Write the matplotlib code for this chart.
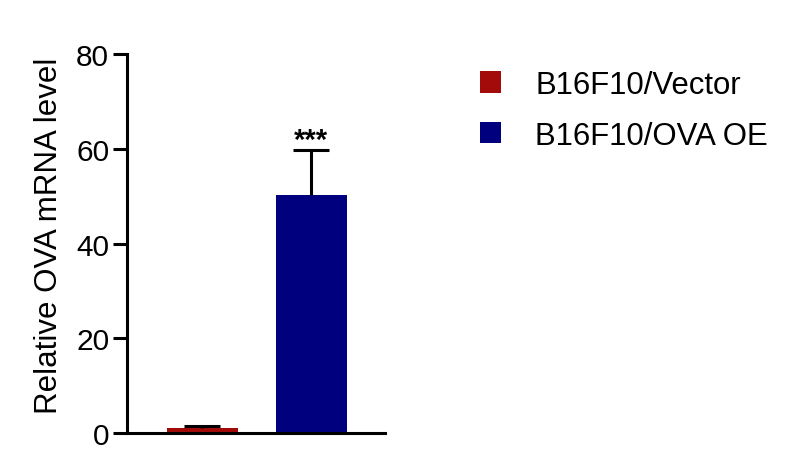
import matplotlib
matplotlib.use('Agg')
import matplotlib.pyplot as plt
from matplotlib.patches import Patch

groups = ['B16F10/Vector', 'B16F10/OVA OE']
means = [1.0, 50.2]
errors = [0.5, 9.6]
colors = ['#A30A0A', '#00007F']
y_ticks = [0, 20, 40, 60, 80]
signif = '***'

plt.rcParams['font.family'] = ['Liberation Sans', 'DejaVu Sans']

fig = plt.figure(figsize=(8, 4.6), dpi=100)
ax = fig.add_axes([0.159, 0.0565, 0.3225, 0.8235])

x = list(range(len(groups)))
ax.bar(x, means, width=0.65, color=colors, zorder=2)
# upward-only error bars, Prism style
eb = ax.errorbar(x, means, yerr=[[0] * len(errors), errors], fmt='none',
                 ecolor='black', elinewidth=2.2, capsize=13, capthick=2.2, zorder=3)
eb[1][0].set_visible(False)  # hide the lower caps

ax.text(x[1], means[1] + errors[1] - 0.8, signif, ha='center', va='bottom',
        fontsize=21, fontweight='bold')

ax.set_xlim(-0.69, 1.68)
ax.set_ylim(0, 80)
ax.set_yticks(y_ticks)
ax.set_xticks([])
ax.tick_params(axis='y', length=10, width=2.2, labelsize=21.5, pad=3)
for side in ['top', 'right']:
    ax.spines[side].set_visible(False)
for side in ['left', 'bottom']:
    ax.spines[side].set_linewidth(2.2)
ax.set_ylabel('Relative OVA mRNA level', fontsize=22.5)
ax.yaxis.set_label_coords(-0.245, 0.522)

handles = [Patch(facecolor=c, edgecolor='none') for c in colors]
fig.legend(handles, groups, loc='upper left', bbox_to_anchor=(0.6, 0.846),
           frameon=False, fontsize=22.4, handlelength=0.68, handleheight=0.68,
           handletextpad=1.09, labelspacing=0.67, borderpad=0, borderaxespad=0)

fig.savefig('out.png', dpi=100)
